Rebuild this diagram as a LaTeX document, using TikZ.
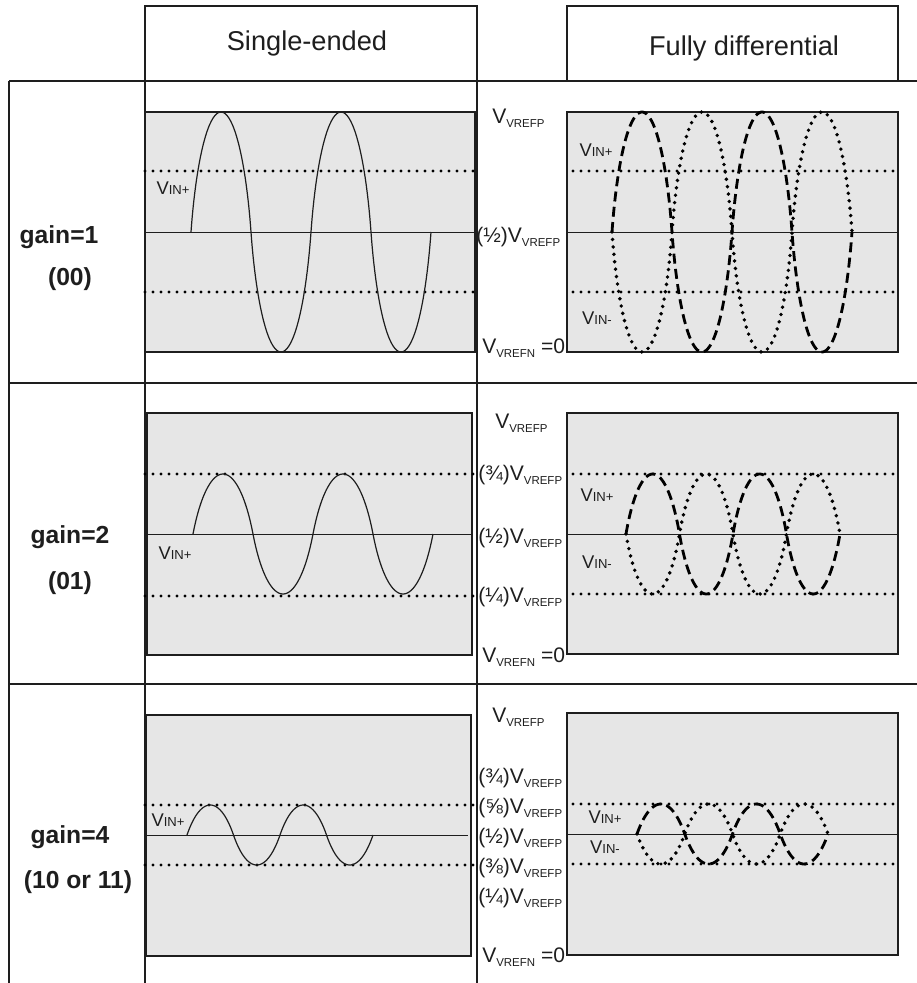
\documentclass[tikz,border=0pt]{standalone}
\usepackage{fontspec}
\setmainfont{Liberation Sans}
\definecolor{panelgray}{HTML}{E6E6E6}
\definecolor{ink}{HTML}{1E1E1E}
\newcommand{\vref}[1]{V\raisebox{-3.6pt}{\fontsize{8.6pt}{10pt}\selectfont VREF#1}}
\newcommand{\vinlbl}[1]{V{\fontsize{9.8pt}{12pt}\selectfont IN#1}}
% style, x0, period, ymid, amplitude, roundness : two periods of rounded half-waves
\newcommand{\wavepath}[6]{%
  \draw[#1] (#2,#4) \foreach \k in {0,1,2,3} {
    -- plot[domain=0:180, samples=46, smooth, variable=\p]
      ({#2+\k*(#3)/2+(#6)*(#3)/4*(1-cos(\p))+(1-(#6))*(#3)/2*\p/180},{#4-(#5)*(1-2*mod(\k,2))*sin(\p)}) };}
\begin{document}
\begin{tikzpicture}[x=0.75pt,y=-0.75pt,
  tbl/.style={line width=0.8pt, draw=ink},
  sep/.style={line width=1.3pt, draw=ink},
  panel/.style={fill=panelgray, draw=ink, line width=1.1pt},
  mid/.style={line width=0.7pt, draw=ink},
  refdot/.style={line width=2.4pt, dash pattern=on 0pt off 6pt, line cap=round, draw=black},
  wave/.style={line width=0.9pt, draw=ink},
  wdash/.style={line width=2.1pt, dash pattern=on 7.5pt off 4pt, draw=black},
  wdot/.style={line width=2.9pt, dash pattern=on 0pt off 5.6pt, line cap=round, draw=black},
  hdr/.style={font=\fontsize{20.4pt}{24pt}\selectfont, text=ink, inner sep=0, anchor=base},
  gainlbl/.style={font=\bfseries\fontsize{18.5pt}{22pt}\selectfont, text=ink, inner sep=0, anchor=base},
  axl/.style={font=\fontsize{15.8pt}{18pt}\selectfont, anchor=base west, inner sep=0, text=ink},
  vin/.style={font=\fontsize{13.8pt}{16pt}\selectfont, inner sep=0, text=ink},
]
\useasboundingbox (0,0) rectangle (917,983);

% ---------- table ----------
\draw[tbl] (145,81) -- (145,6) -- (477,6) -- (477,81);
\draw[tbl] (567,81) -- (567,6) -- (898,6) -- (898,81);
\draw[sep] (9,81) -- (917,81);
\draw[tbl] (9,81) -- (9,983);
\draw[tbl] (145,81) -- (145,983);
\draw[tbl] (477,81) -- (477,983);
\draw[sep] (9,383) -- (917,383);
\draw[sep] (9,684) -- (917,684);

\node[hdr] (hse) at (307,50) {Single-ended};
\node[hdr] (hfd) at (744,55) {Fully differential};

\node[gainlbl] (g1) at (59,243) {gain=1};
\node[gainlbl] (g1c) at (70,285) {(00)};
\node[gainlbl] (g2) at (70,543) {gain=2};
\node[gainlbl] (g2c) at (70,589) {(01)};
\node[gainlbl] (g4) at (70,843) {gain=4};
\node[gainlbl] (g4c) at (78,888) {(10 or 11)};

% ---------- row 1 ----------
\draw[panel] (145,112) rectangle (475,352);
\draw[panel] (567,112) rectangle (898,352);
\draw[mid] (145,232) -- (475,232);
\draw[mid] (567,232) -- (898,232);
\draw[refdot] (145,171) -- (473,171);
\draw[refdot] (145,292) -- (473,292);
\draw[refdot] (573,171) -- (896,171);
\draw[refdot] (573,292) -- (896,292);
\wavepath{wave}{191}{120}{232}{120}{0.55}
\wavepath{wdot}{612}{120}{232}{-120}{0.55}
\wavepath{wdash}{612}{120}{232}{120}{0.55}
\node[vin] (r1a) at (173,188) {\vinlbl{+}};
\node[vin] (r1b) at (596,150) {\vinlbl{+}};
\node[vin] (r1c) at (597,318) {\vinlbl{-}};
\node[axl] (r1p) at (492,123) {\vref{P}};
\node[axl] (r1h) at (476,242) {(½)\vref{P}};
\node[axl] (r1n) at (482,353) {\vref{N} =0};

% ---------- row 2 ----------
\draw[panel] (147,413) rectangle (472,655);
\draw[panel] (567,413) rectangle (898,654);
\draw[mid] (147,534) -- (472,534);
\draw[mid] (567,534) -- (898,534);
\draw[refdot] (145,474) -- (473,474);
\draw[refdot] (145,596) -- (473,596);
\draw[refdot] (573,474) -- (896,474);
\draw[refdot] (573,594) -- (896,594);
\wavepath{wave}{193}{120}{534}{60}{0.4}
\wavepath{wdot}{626}{107}{534}{-60}{0.4}
\wavepath{wdash}{626}{107}{534}{60}{0.4}
\node[vin] (r2a) at (175,553) {\vinlbl{+}};
\node[vin] (r2b) at (597,495) {\vinlbl{+}};
\node[vin] (r2c) at (597,562) {\vinlbl{-}};
\node[axl] (r2p) at (495,428) {\vref{P}};
\node[axl] (r2t) at (478,480) {(¾)\vref{P}};
\node[axl] (r2h) at (478,543) {(½)\vref{P}};
\node[axl] (r2q) at (478,602) {(¼)\vref{P}};
\node[axl] (r2n) at (482,662) {\vref{N} =0};

% ---------- row 3 ----------
\draw[panel] (146,715) rectangle (471,956);
\draw[panel] (567,713) rectangle (898,955);
\draw[mid] (146,835) -- (468,835);
\draw[mid] (567,834) -- (898,834);
\draw[refdot] (145,805) -- (473,805);
\draw[refdot] (145,865) -- (473,865);
\draw[refdot] (573,804) -- (896,804);
\draw[refdot] (573,864) -- (896,864);
\wavepath{wave}{187}{93}{835}{30}{0.3}
\wavepath{wdot}{637}{95.5}{834}{-30}{0.3}
\wavepath{wdash}{637}{95.5}{834}{30}{0.3}
\node[vin] (r3a) at (168,820) {\vinlbl{+}};
\node[vin] (r3b) at (605,817) {\vinlbl{+}};
\node[vin] (r3c) at (605,847) {\vinlbl{-}};
\node[axl] (r3p) at (492,722) {\vref{P}};
\node[axl] (r3t) at (478,783) {(¾)\vref{P}};
\node[axl] (r3f) at (478,813) {(⅝)\vref{P}};
\node[axl] (r3h) at (478,843) {(½)\vref{P}};
\node[axl] (r3e) at (478,873) {(⅜)\vref{P}};
\node[axl] (r3q) at (478,903) {(¼)\vref{P}};
\node[axl] (r3n) at (482,962) {\vref{N} =0};
\end{tikzpicture}
\end{document}
